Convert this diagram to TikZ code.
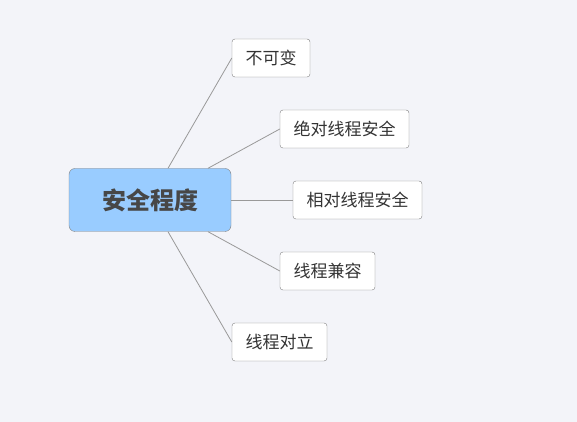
\documentclass[tikz,border=0pt]{standalone}
\usepackage{fontspec}
\setmainfont{Noto Sans CJK SC}
\definecolor{bgcol}{HTML}{F3F4F9}
\definecolor{rootfill}{HTML}{99CCFF}
\definecolor{edgecol}{HTML}{999999}
\definecolor{boxline}{HTML}{808080}
\definecolor{txtcol}{HTML}{333333}
\tikzset{
	rootbox/.style={draw=boxline,fill=rootfill,rounded corners=6pt,minimum width=162pt,minimum height=63pt,text=txtcol!90,font=\fontsize{24}{24}\selectfont\bfseries},
	leafbox/.style={draw=boxline,fill=white,rounded corners=3pt,minimum height=38pt,inner xsep=13.5pt,text=txtcol,font=\fontsize{17}{17}\selectfont},
	branch/.style={draw=edgecol,line width=0.8pt}
}
\begin{document}
\begin{tikzpicture}[x=1pt,y=1pt]
	\fill [bgcol] (0,0) rectangle (577,422);
	\useasboundingbox (0,0) rectangle (577,422);

	\node [rootbox] (root) at (150,222) {安全程度};

	\node [leafbox] (immut) at (271,364) {不可变};
	\node [leafbox] (abssafe) at (344.5,293) {绝对线程安全};
	\node [leafbox] (relsafe) at (357.5,222) {相对线程安全};
	\node [leafbox] (compat) at (327.5,151) {线程兼容};
	\node [leafbox] (hostile) at (279.5,80) {线程对立};

	\draw [branch] ([xshift=18pt]root.north) -- (immut.west);
	\draw [branch] ([xshift=58pt]root.north) -- (abssafe.west);
	\draw [branch] (root.east) -- (relsafe.west);
	\draw [branch] ([xshift=58pt]root.south) -- (compat.west);
	\draw [branch] ([xshift=18pt]root.south) -- (hostile.west);
\end{tikzpicture}
\end{document}
